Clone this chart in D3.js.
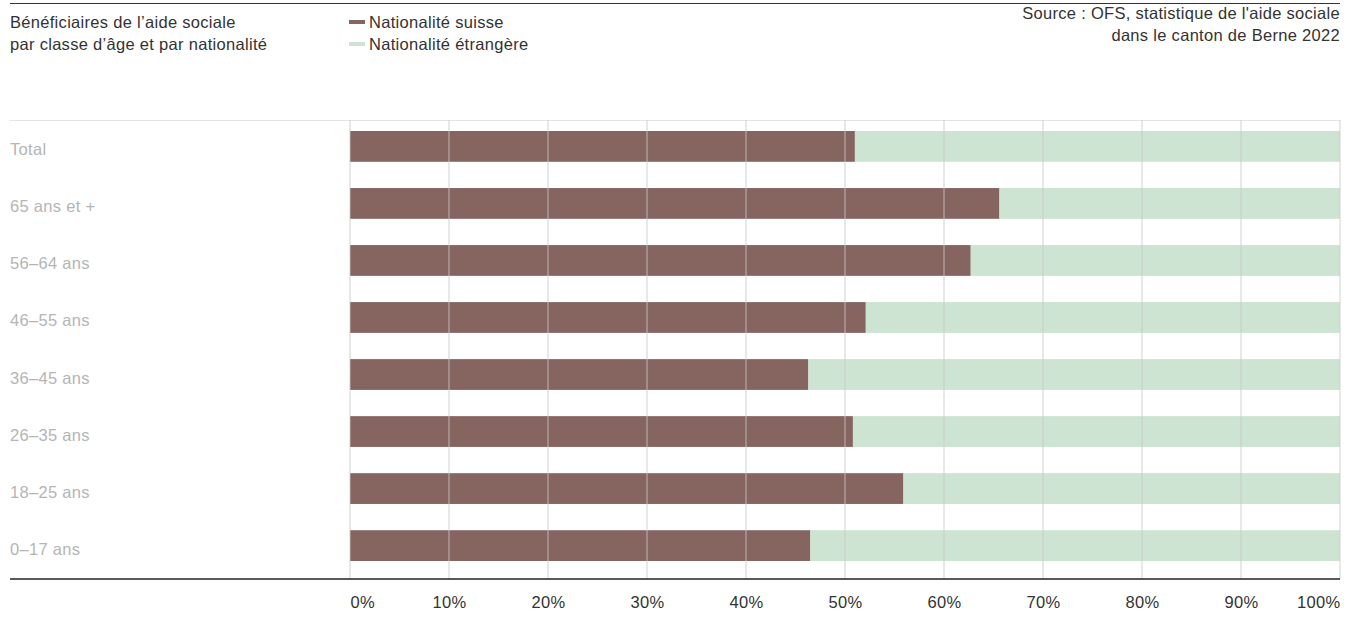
<!DOCTYPE html>
<html><head><meta charset="utf-8">
<script src="https://cdn.jsdelivr.net/npm/d3@7"></script>
<style>body{margin:0;background:#fff;} text{font-family:"Liberation Sans",Arial,sans-serif;letter-spacing:0.3px;}</style>
</head><body>
<svg id="c" width="1357" height="617"></svg>
<script>
const categories = ["Total","65 ans et +","56–64 ans","46–55 ans","36–45 ans","26–35 ans","18–25 ans","0–17 ans"];
const suisse = [51.0, 65.6, 62.7, 52.1, 46.3, 50.8, 55.9, 46.5];
const etrangere = [49.0, 34.4, 37.3, 47.9, 53.7, 49.2, 44.1, 53.5];
const seriesNames = ["Nationalité suisse","Nationalité étrangère"];
const tickValues = [0,10,20,30,40,50,60,70,80,90,100];
const titleLines = ["Bénéficiaires de l’aide sociale","par classe d’âge et par nationalité"];
const sourceLines = ["Source : OFS, statistique de l'aide sociale","dans le canton de Berne 2022"];

const colors = ["#866560","#cce4d1"];
const FS = 16.5;
const svg = d3.select("#c");
const x = d3.scaleLinear().domain([0,100]).range([350,1340]);
const y = d3.scaleBand().domain(categories).range([120,572]).paddingInner(0.46).paddingOuter(0.193);

// top rule
svg.append("line").attr("x1",10).attr("x2",1340).attr("y1",3.5).attr("y2",3.5).attr("stroke","#333").attr("stroke-width",1);
// title
svg.append("g").selectAll("text").data(titleLines).join("text")
  .attr("x",10).attr("y",(d,i)=>28+i*22).attr("font-size",FS).attr("fill","#333").text(d=>d);
// source
svg.append("g").selectAll("text").data(sourceLines).join("text")
  .attr("x",1340).attr("y",(d,i)=>19+i*22).attr("text-anchor","end").attr("font-size",FS).attr("fill","#333").text(d=>d);
// legend
const lg = svg.append("g").selectAll("g").data(seriesNames).join("g").attr("transform",(d,i)=>`translate(349,${i*22})`);
lg.append("rect").attr("x",0).attr("y",20).attr("width",16).attr("height",4).attr("fill",(d,i)=>colors[i]);
lg.append("text").attr("x",20).attr("y",28).attr("font-size",FS).attr("fill","#333").text(d=>d);

// top border of plot
svg.append("line").attr("x1",10).attr("x2",1340).attr("y1",120.5).attr("y2",120.5).attr("stroke","#e4e4e4").attr("stroke-width",1);

// bars
const rows = categories.map((c,i)=>({c, s:suisse[i], e:etrangere[i]}));
const g = svg.append("g");
g.selectAll("rect.s").data(rows).join("rect").attr("class","s")
  .attr("x",x(0)).attr("y",d=>y(d.c)).attr("width",d=>x(d.s)-x(0)).attr("height",y.bandwidth()).attr("fill",colors[0]);
g.selectAll("rect.e").data(rows).join("rect").attr("class","e")
  .attr("x",d=>x(d.s)).attr("y",d=>y(d.c)).attr("width",d=>x(d.s+d.e)-x(d.s)).attr("height",y.bandwidth()).attr("fill",colors[1]);

// grid lines on top
svg.append("g").selectAll("line").data(tickValues).join("line")
  .attr("x1",d=>x(d)).attr("x2",d=>x(d)).attr("y1",120).attr("y2",579)
  .attr("stroke","#c8c8c8").attr("stroke-opacity",0.55).attr("stroke-width",1.5);

// category labels
svg.append("g").selectAll("text").data(categories).join("text")
  .attr("x",10).attr("y",d=>y(d)+y.bandwidth()/2+9).attr("font-size",FS).attr("fill","#b5b5b5").text(d=>d);

// bottom axis line
svg.append("line").attr("x1",10).attr("x2",1340).attr("y1",579).attr("y2",579).attr("stroke","#222").attr("stroke-width",1.3);

// x axis via d3
const xAxis = d3.axisBottom(x).tickValues(tickValues).tickFormat(d=>d+"%").tickSize(0).tickPadding(0);
const ax = svg.append("g").attr("transform","translate(0,591)").call(xAxis);
ax.select(".domain").remove();
ax.selectAll("text").attr("font-size",FS).attr("fill","#333").attr("font-family","Liberation Sans, Arial, sans-serif")
  .attr("dy","1em")
  .attr("text-anchor",d=>d===0?"start":(d===100?"end":"middle"));
</script>
</body></html>
